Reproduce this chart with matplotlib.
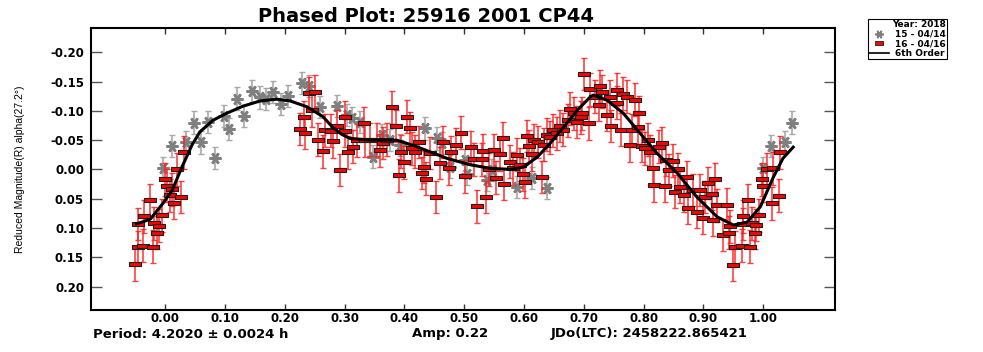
import matplotlib
matplotlib.use("Agg")
import matplotlib.pyplot as plt
from matplotlib.lines import Line2D

# ---- data ----
# session 15 - 04/14 (gray asterisks)
gray_x = [-0.003, 0.011, 0.035, 0.048, 0.060, 0.072, 0.084, 0.098, 0.107, 0.120,
          0.132, 0.145, 0.158, 0.168, 0.180, 0.194, 0.205, 0.228, 0.240, 0.259,
          0.287, 0.304, 0.312, 0.326, 0.348, 0.362, 0.376, 0.393, 0.435, 0.454,
          0.463, 0.477, 0.502, 0.505, 0.538, 0.546, 0.588, 0.613, 0.638,
          0.999, 1.013, 1.036, 1.048]
gray_y = [-0.002, -0.040, -0.047, -0.080, -0.046, -0.081, -0.020, -0.091, -0.069, -0.121,
          -0.091, -0.134, -0.123, -0.120, -0.132, -0.112, -0.126, -0.148, -0.142, -0.107,
          -0.108, -0.093, -0.087, -0.081, -0.022, -0.059, -0.050, -0.042, -0.070, -0.053,
          -0.045, -0.005, -0.016, 0.007, 0.018, 0.001, 0.030, 0.015, 0.032,
          -0.002, -0.040, -0.046, -0.080]
gray_err = 0.019

# session 16 - 04/16 (red squares)
red_x = [-0.050, -0.046, -0.037, -0.021, -0.045, -0.035, -0.026, -0.018, -0.011, -0.013,
         -0.006, 0.000, 0.003, 0.008, 0.015, 0.027, 0.020, 0.032, 0.012,
         0.226, 0.232, 0.234, 0.240, 0.245, 0.251, 0.256, 0.264, 0.268, 0.277,
         0.280, 0.287, 0.293, 0.301, 0.301, 0.306,
         0.314, 0.320, 0.332, 0.334, 0.343, 0.354, 0.360, 0.365, 0.371, 0.379,
         0.386, 0.391, 0.395, 0.400, 0.404, 0.410, 0.413, 0.418, 0.424, 0.429,
         0.432, 0.436, 0.443, 0.453, 0.459, 0.465, 0.474, 0.478, 0.487, 0.495,
         0.502, 0.511, 0.516, 0.522, 0.530, 0.531, 0.536, 0.542, 0.549, 0.554,
         0.560, 0.565, 0.567, 0.576, 0.581, 0.588, 0.594, 0.598, 0.601, 0.605,
         0.608, 0.613, 0.617, 0.624, 0.630, 0.633, 0.638, 0.644, 0.648, 0.655,
         0.661, 0.666, 0.673, 0.677, 0.683, 0.688, 0.695,
         0.697, 0.700, 0.708, 0.711, 0.718, 0.725, 0.727, 0.730, 0.738, 0.743,
         0.745, 0.755, 0.756, 0.762, 0.765, 0.772, 0.777, 0.780, 0.786, 0.791,
         0.793, 0.797, 0.803, 0.807, 0.811, 0.815, 0.817, 0.825, 0.830, 0.836,
         0.838, 0.843, 0.849, 0.853, 0.858, 0.861, 0.868, 0.872, 0.875, 0.883,
         0.889, 0.894, 0.900, 0.903, 0.908, 0.914, 0.916, 0.920, 0.923, 0.932,
         0.939, 0.942, 0.945, 0.950, 0.953, 0.964, 0.966, 0.966, 0.974, 0.978,
         0.982, 0.987, 0.988, 0.993, 0.998, 1.000, 1.006, 1.014, 1.016, 1.027,
         1.028]
red_y = [0.162, 0.133, 0.130, 0.132, 0.093, 0.080, 0.053, 0.092, 0.096, 0.108,
         0.078, 0.017, 0.028, 0.044, 0.057, 0.047, 0.000, -0.029, 0.034,
         -0.069, -0.089, -0.063, -0.130, -0.101, -0.133, -0.051, -0.031, -0.067, -0.066,
         -0.048, -0.074, 0.001, -0.089, -0.066, -0.029,
         -0.039, -0.050, -0.079, -0.050, -0.051, -0.051, -0.033, -0.045, -0.051, -0.106,
         -0.074, 0.010, -0.030, -0.012, -0.090, -0.070, -0.036, -0.030, -0.047, 0.006,
         -0.004, 0.016, -0.028, 0.047, -0.011, -0.047, -0.002, -0.029, -0.042, -0.063,
         0.012, -0.038, -0.017, 0.063, -0.017, -0.032, 0.047, 0.000, -0.033, 0.014,
         -0.026, -0.053, 0.025, -0.013, -0.002, -0.025, -0.008, 0.008, 0.021, -0.057,
         -0.040, -0.026, -0.050, -0.047, 0.013, -0.042, -0.059, -0.055, -0.067, -0.062,
         -0.074, -0.068, -0.084, -0.104, -0.096, -0.081, -0.089,
         -0.096, -0.163, -0.079, -0.137, -0.124, -0.110, -0.142, -0.133, -0.093, -0.124,
         -0.074, -0.136, -0.114, -0.068, -0.129, -0.124, -0.041, -0.067, -0.119, -0.072,
         -0.097, -0.040, -0.036, -0.051, -0.030, -0.003, 0.027, -0.039, -0.045, 0.028,
         -0.016, 0.001, -0.015, 0.038, 0.000, 0.030, 0.044, 0.013, 0.066, 0.035,
         0.072, 0.035, 0.083, 0.047, 0.023, 0.042, 0.086, 0.017, 0.061, 0.112,
         0.060, 0.108, 0.097, 0.163, 0.133, 0.130, 0.080, 0.093, 0.053, 0.132,
         0.092, 0.108, 0.095, 0.078, 0.017, 0.028, 0.000, 0.058, -0.002, 0.045,
         -0.029]
red_err = 0.028

# 6th order fit
fit_x = [-0.048, -0.025, -0.003, 0.012, 0.028, 0.045, 0.058, 0.080, 0.103, 0.130,
         0.159, 0.187, 0.209, 0.237, 0.264, 0.280, 0.295, 0.309, 0.343, 0.387,
         0.415, 0.443, 0.471, 0.510, 0.543, 0.577, 0.599, 0.622, 0.644, 0.666,
         0.689, 0.711, 0.716, 0.739, 0.766, 0.794, 0.822, 0.856, 0.889, 0.923,
         0.950, 0.973, 0.995, 1.017, 1.033, 1.050]
fit_y = [0.093, 0.085, 0.057, 0.035, -0.004, -0.042, -0.064, -0.084, -0.096, -0.108,
         -0.117, -0.120, -0.117, -0.107, -0.090, -0.072, -0.060, -0.053, -0.050, -0.050,
         -0.041, -0.030, -0.019, -0.008, -0.002, 0.000, -0.004, -0.021, -0.045, -0.072,
         -0.101, -0.124, -0.127, -0.118, -0.096, -0.062, -0.028, 0.006, 0.047, 0.081,
         0.095, 0.090, 0.064, 0.013, -0.019, -0.038]

x_ticks = [0.0, 0.1, 0.2, 0.3, 0.4, 0.5, 0.6, 0.7, 0.8, 0.9, 1.0]
x_tick_labels = ["0.00", "0.10", "0.20", "0.30", "0.40", "0.50", "0.60", "0.70", "0.80", "0.90", "1.00"]
y_ticks = [-0.20, -0.15, -0.10, -0.05, 0.0, 0.05, 0.10, 0.15, 0.20]
y_tick_labels = ["-0.20", "-0.15", "-0.10", "-0.05", "0.00", "0.05", "0.10", "0.15", "0.20"]

# ---- figure ----
plt.rcParams['font.family'] = ['DejaVu Sans']
fig = plt.figure(figsize=(9.83, 3.52), dpi=100)
ax = fig.add_axes([91 / 983, 1 - 310 / 352, 744 / 983, 282 / 352])

red_box = [(-1, -0.42), (1, -0.42), (1, 0.42), (-1, 0.42), (-1, -0.42)]
star = (6, 2, 90)

ax.errorbar(gray_x, gray_y, yerr=gray_err, fmt='none', ecolor='#a8a8a8',
            elinewidth=1.2, capsize=2.5, capthick=1.0, zorder=2)
ax.plot(gray_x, gray_y, linestyle='none', marker=star, ms=8.5, mew=1.9,
        color='#808080', zorder=3)

ax.errorbar(red_x, red_y, yerr=red_err, fmt='none', ecolor='#ff2020',
            elinewidth=1.2, capsize=2.5, capthick=1.0, alpha=0.85, zorder=4)
ax.plot(red_x, red_y, linestyle='none', marker=red_box, ms=8.5, mfc='#ff0000',
        mec='#202020', mew=0.8, zorder=5)

ax.plot(fit_x, fit_y, color='black', lw=2.2, zorder=6)

ax.set_xlim(-0.124, 1.120)
ax.set_ylim(0.240, -0.2415)

ax.set_xticks(x_ticks)
ax.set_xticklabels(x_tick_labels, fontsize=8.5, fontweight='bold')
ax.set_yticks(y_ticks)
ax.set_yticklabels(y_tick_labels, fontsize=8.5, fontweight='bold')
ax.tick_params(axis='x', direction='in', length=4, width=1, top=True, pad=1.5, colors='#333333',
               labelcolor='black')
ax.tick_params(axis='y', direction='in', length=8, width=1, right=True, pad=5, colors='#555555',
               labelcolor='black')
for s in ax.spines.values():
    s.set_linewidth(1.5)
    s.set_color('black')

ax.set_ylabel("Reduced Magnitude(R) alpha(27.2°)", fontsize=7.5,
              family=['Liberation Sans Narrow', 'Liberation Sans', 'DejaVu Sans'])
ax.yaxis.set_label_coords(-0.089, 0.50)

fig.text(426 / 983, 1 - 16.5 / 352, "Phased Plot: 25916 2001 CP44", fontsize=14,
         fontweight='bold', ha='center', va='center')

bottom_y = 1 - 334 / 352
fig.text(191 / 983, bottom_y, "Period: 4.2020 ± 0.0024 h", fontsize=9.5,
         fontweight='bold', ha='center', va='center')
fig.text(450 / 983, bottom_y, "Amp: 0.22", fontsize=9.5,
         fontweight='bold', ha='center', va='center')
fig.text(649 / 983, bottom_y, "JDo(LTC): 2458222.865421", fontsize=9.5,
         fontweight='bold', ha='center', va='center')

handles = [
    Line2D([], [], linestyle='none', marker=star, ms=6, mew=1.3, color='#808080'),
    Line2D([], [], linestyle='none', marker=red_box, ms=6, mfc='#ff0000', mec='#202020', mew=0.6),
    Line2D([], [], color='black', lw=1.2),
]
leg = ax.legend(handles, ["15 - 04/14", "16 - 04/16", "6th Order"],
                title="Year: 2018", loc='upper left',
                bbox_to_anchor=(868 / 983, 1 - 19 / 352), bbox_transform=fig.transFigure,
                prop={'size': 6.5, 'weight': 'bold'}, title_fontproperties={'size': 6.5, 'weight': 'bold'},
                alignment='right', fancybox=False, edgecolor='black', framealpha=1,
                borderpad=0.15, labelspacing=0.05, handlelength=2.2, handletextpad=0.6,
                borderaxespad=0)
leg.get_frame().set_linewidth(0.8)

fig.savefig("out.png", dpi=100)
